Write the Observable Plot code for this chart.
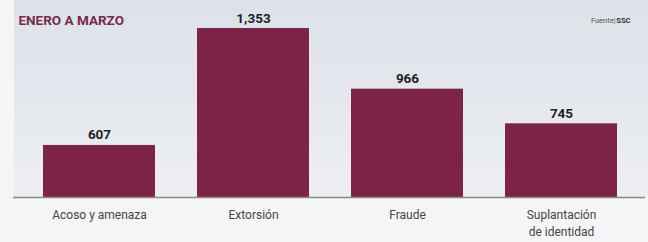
<!DOCTYPE html>
<html>
<head>
<meta charset="utf-8">
<script src="https://cdn.jsdelivr.net/npm/d3@7"></script>
<script src="https://cdn.jsdelivr.net/npm/@observablehq/plot@0.6"></script>
<style>
  html, body { margin: 0; padding: 0; background: #f4f5f7; }
  #wrap { position: relative; width: 648px; height: 242px; overflow: hidden; }
  #panel { position: absolute; left: 14px; top: 0; width: 634px; height: 197px;
           background: linear-gradient(#dde2e9, #eceef2); }
  #chart { position: absolute; left: 0; top: 0; }
  svg { background: transparent !important; }
</style>
</head>
<body>
<div id="wrap"><div id="panel"></div><div id="chart"></div></div>
<script>
const categories = ["Acoso y amenaza", "Extorsión", "Fraude", "Suplantación de identidad"];
const values = [607, 1353, 966, 745];
const title = "ENERO A MARZO";
const sourceLabel = "Fuente|";
const sourceName = "SSC";

const yMin = 275;
const data = categories.map((c, i) => ({category: c, value: values[i]}));

const chart = Plot.plot({
  width: 648,
  height: 242,
  marginLeft: 22,
  marginRight: 10,
  marginTop: 28,
  marginBottom: 45,
  style: {background: "transparent", fontFamily: "Roboto, 'Open Sans', sans-serif"},
  x: {domain: categories, paddingInner: 0.27, paddingOuter: 0.135},
  y: {domain: [yMin, 1353], axis: null},
  marks: [
    Plot.barY(data, {x: "category", y1: yMin, y2: "value", fill: "#7d2446"}),
    Plot.ruleY([yMin], {stroke: "#8a8a8a", strokeWidth: 1.5, insetLeft: -9, insetRight: -7}),
    Plot.text(data, {x: "category", y: "value", text: d => d3.format(",")(d.value),
      lineAnchor: "bottom", dy: -6, fontSize: 13.5, fontWeight: "bold", fill: "#222"}),
    Plot.axisX({tickSize: 0, tickPadding: 9, fontSize: 12, lineHeight: 1.45, fill: "#454545",
      label: null, tickFormat: d => d.replace("Suplantación ", "Suplantación\n")}),
    Plot.text([title], {frameAnchor: "top-left", dx: -4, dy: -8, lineAnchor: "middle",
      text: d => d, fontSize: 13.5, fontWeight: "bold", fill: "#7a2a4b", letterSpacing: "-0.3px"}),
    Plot.text([sourceName], {frameAnchor: "top-right", dx: -8, dy: -8, lineAnchor: "middle",
      textAnchor: "end", text: d => d, fontSize: 7.5, fontWeight: "bold", fill: "#333"}),
    Plot.text([sourceLabel], {frameAnchor: "top-right", dx: -23, dy: -8, lineAnchor: "middle",
      textAnchor: "end", text: d => d, fontSize: 7.5, fill: "#555"})
  ]
});
document.getElementById("chart").append(chart);
</script>
</body>
</html>
